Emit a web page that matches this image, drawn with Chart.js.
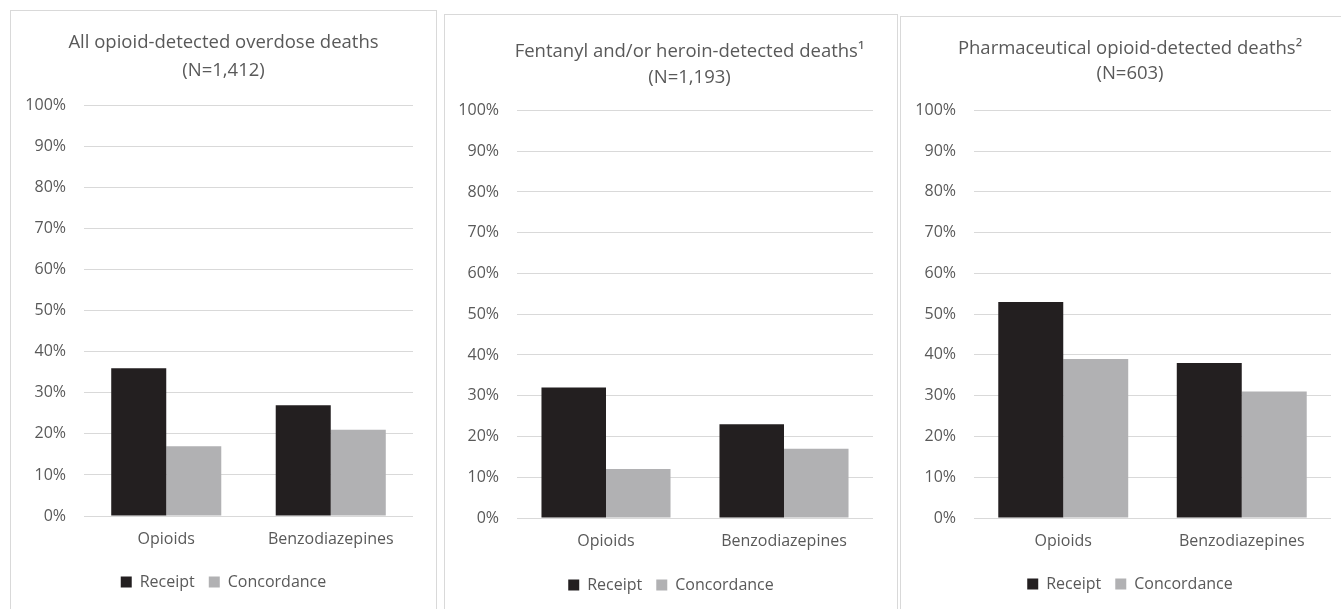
<!DOCTYPE html>
<html><head><meta charset="utf-8">
<script src="https://cdn.jsdelivr.net/npm/chart.js@4.4.1/dist/chart.umd.min.js"></script>
<style>
html,body{margin:0;padding:0;background:#fff;width:1341px;height:609px;overflow:hidden;position:relative;}
.panel{position:absolute;border:1px solid #d9d9d9;background:#fff;}
.panel canvas{display:block;}
#p1{left:10px;top:10px;}
#p2{left:444px;top:14px;}
#p3{left:900px;top:16px;}
</style>
</head><body>
<div class="panel" id="p1"><canvas id="c1" width="425" height="610"></canvas></div>
<div class="panel" id="p2"><canvas id="c2" width="452" height="610"></canvas></div>
<div class="panel" id="p3"><canvas id="c3" width="458" height="610"></canvas></div>
<script>
const categories = ['Opioids', 'Benzodiazepines'];
const seriesNames = ['Receipt', 'Concordance'];
const yTickValues = [0, 10, 20, 30, 40, 50, 60, 70, 80, 90, 100];

const allOpioidTitle = ['All opioid-detected overdose deaths', '(N=1,412)'];
const allOpioidReceipt = [36, 27];
const allOpioidConcordance = [17, 21];

const fentHeroinTitle = ['\u2003\u2003Fentanyl and/or heroin-detected deaths\u00B9', '\u2003\u2003(N=1,193)'];
const fentHeroinReceipt = [32, 23];
const fentHeroinConcordance = [12, 17];

const pharmTitle = ['Pharmaceutical opioid-detected deaths\u00B2', '(N=603)'];
const pharmReceipt = [53, 38];
const pharmConcordance = [39, 31];

const receiptColor = '#231f20';
const concordanceColor = '#b1b1b3';
const textColor = '#595959';
const gridColor = '#d9d9d9';
const FONT = "'Open Sans', sans-serif";

function makeChart(id, title, receipt, concordance, o) {
  return new Chart(document.getElementById(id), {
    type: 'bar',
    data: {
      labels: categories,
      datasets: [
        { label: seriesNames[0], data: receipt, backgroundColor: receiptColor, borderWidth: 0,
          categoryPercentage: o.catPct, barPercentage: 1, yAxisID: 'y' },
        { label: seriesNames[1], data: concordance, backgroundColor: concordanceColor, borderWidth: 0,
          categoryPercentage: o.catPct, barPercentage: 1, yAxisID: 'y' }
      ]
    },
    options: {
      responsive: false,
      animation: false,
      layout: { padding: { top: 0, left: 0, right: 0, bottom: o.padBottom } },
      plugins: {
        tooltip: { enabled: false },
        title: {
          display: true, text: title, color: textColor,
          font: { family: FONT, size: 18.5, weight: 'normal', lineHeight: o.titleLH },
          padding: { top: o.titleTop, bottom: o.titleBottom }
        },
        legend: {
          position: 'bottom',
          labels: { color: textColor, font: { family: FONT, size: 16 }, boxWidth: 11, boxHeight: 11, padding: 14 }
        }
      },
      scales: {
        x: {
          grid: { display: false, drawTicks: false },
          border: { display: false },
          ticks: { color: textColor, font: { family: FONT, size: 16 }, padding: 14 },
          afterFit(s) { s.height = o.xHeight; }
        },
        y: {
          min: 0, max: 100,
          grid: { color: gridColor, lineWidth: 1, drawTicks: false },
          border: { display: false },
          afterBuildTicks(s) { s.ticks = yTickValues.map(v => ({ value: v })); },
          ticks: { color: textColor, font: { family: FONT, size: 16 }, padding: 18, callback: v => v + '%' },
          afterFit(s) { s.width = o.yWidth; }
        },
        yR: {
          position: 'right', min: 0, max: 100,
          grid: { display: false, drawTicks: false },
          border: { display: false },
          ticks: { display: false },
          afterFit(s) { s.width = o.rightWidth; }
        }
      }
    }
  });
}

makeChart('c1', allOpioidTitle, allOpioidReceipt, allOpioidConcordance,
  { catPct: 0.669, padBottom: 21, xHeight: 44, yWidth: 73, rightWidth: 23, titleLH: 1.5, titleTop: 18, titleBottom: 21 });
makeChart('c2', fentHeroinTitle, fentHeroinReceipt, fentHeroinConcordance,
  { catPct: 0.725, padBottom: 22, xHeight: 45, yWidth: 72, rightWidth: 24, titleLH: 1.39, titleTop: 24, titleBottom: 20 });
makeChart('c3', pharmTitle, pharmReceipt, pharmConcordance,
  { catPct: 0.728, padBottom: 25, xHeight: 44, yWidth: 73, rightWidth: 28, titleLH: 1.36, titleTop: 19, titleBottom: 24 });
</script>
</body></html>
